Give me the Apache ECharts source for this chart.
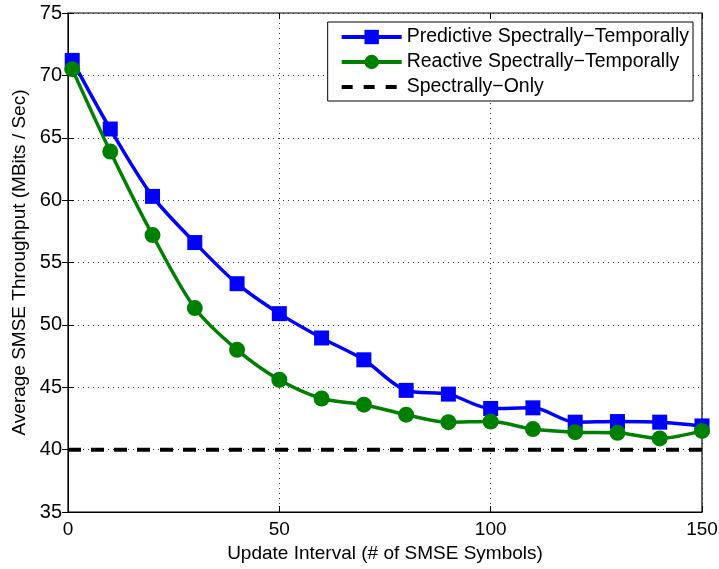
<!DOCTYPE html>
<html><head><meta charset="utf-8">
<script src="https://cdn.jsdelivr.net/npm/echarts@6/dist/echarts.min.js"></script>
<style>html,body{margin:0;padding:0;background:#fff}#c{width:719px;height:569px}</style>
</head><body><div id="c"></div>
<script>
const xValues = [1, 10, 20, 30, 40, 50, 60, 70, 80, 90, 100, 110, 120, 130, 140, 150];
const predictive = [71.2, 65.7, 60.3, 56.6, 53.3, 50.9, 48.95, 47.2, 44.75, 44.45, 43.3, 43.35, 42.2, 42.25, 42.2, 41.9];
const reactive = [70.5, 63.9, 57.2, 51.35, 48.0, 45.6, 44.1, 43.6, 42.8, 42.2, 42.25, 41.65, 41.4, 41.35, 40.9, 41.5];
const spectrallyOnlyX = [0, 150];
const spectrallyOnly = [40, 40];
const seriesNames = ['Predictive Spectrally\u2212Temporally', 'Reactive Spectrally\u2212Temporally', 'Spectrally\u2212Only'];
const xTitle = 'Update Interval (# of SMSE Symbols)';
const yTitle = 'Average SMSE Throughput (MBits / Sec)';

const font = 'Liberation Sans, Arial, Helvetica, sans-serif';
const chart = echarts.init(document.getElementById('c'), null, {renderer: 'canvas'});
const zip = (xs, ys) => xs.map((x, i) => [x, ys[i]]);
const split = {show: true, lineStyle: {color: '#333', type: [1, 4], width: 1}};
const tick = {show: true, inside: true, length: 6, lineStyle: {color: '#000'}};
chart.setOption({
  animation: false,
  grid: {left: 68, top: 13, right: 17, bottom: 57, show: true, borderColor: '#000', borderWidth: 1.2,
         containLabel: false, outerBoundsMode: 'none'},
  legend: {
    orient: 'vertical', right: 26, top: 22, padding: [5, 4, 4, 12],
    backgroundColor: '#fff', borderColor: '#000', borderWidth: 1,
    itemWidth: 60, itemHeight: 18, itemGap: 5,
    textStyle: {fontFamily: font, fontSize: 19.5, color: '#000', lineHeight: 20},
    data: [
      {name: seriesNames[0], lineStyle: {width: 4}},
      {name: seriesNames[1], lineStyle: {width: 4}},
      {name: seriesNames[2], lineStyle: {width: 4, type: [11, 11]}, itemStyle: {opacity: 0}}
    ]
  },
  xAxis: [{
    type: 'value', min: 0, max: 150, interval: 50,
    name: xTitle, nameLocation: 'middle', nameGap: 31,
    nameTextStyle: {fontFamily: font, fontSize: 19, color: '#000'},
    axisLine: {show: true, lineStyle: {color: '#000'}},
    axisTick: tick,
    axisLabel: {fontFamily: font, fontSize: 19, color: '#000', margin: 8},
    splitLine: split
  }, {
    type: 'value', min: 0, max: 150, interval: 50, position: 'top',
    axisLine: {show: false}, axisTick: tick, axisLabel: {show: false}, splitLine: {show: false}
  }],
  yAxis: [{
    type: 'value', min: 35, max: 75, interval: 5,
    name: yTitle, nameLocation: 'middle', nameGap: 36,
    nameTextStyle: {fontFamily: font, fontSize: 19, color: '#000'},
    axisLine: {show: true, lineStyle: {color: '#000'}},
    axisTick: tick,
    axisLabel: {fontFamily: font, fontSize: 20, color: '#000', margin: 6},
    splitLine: split
  }, {
    type: 'value', min: 35, max: 75, interval: 5, position: 'right',
    axisLine: {show: false}, axisTick: tick, axisLabel: {show: false}, splitLine: {show: false}
  }],
  series: [
    {
      name: seriesNames[0], type: 'line', data: zip(xValues, predictive), smooth: 0.3,
      symbol: 'rect', symbolSize: 15,
      itemStyle: {color: '#0000ff'}, lineStyle: {color: '#0000ff', width: 3.5}, z: 3
    },
    {
      name: seriesNames[1], type: 'line', data: zip(xValues, reactive), smooth: 0.3,
      symbol: 'circle', symbolSize: 16,
      itemStyle: {color: '#008000'}, lineStyle: {color: '#008000', width: 3.5}, z: 4
    },
    {
      name: seriesNames[2], type: 'line', data: zip(spectrallyOnlyX, spectrallyOnly),
      symbol: 'none', itemStyle: {color: '#000'},
      lineStyle: {color: '#000', width: 4, type: [13, 10]}, z: 2
    }
  ]
});
</script></body></html>
